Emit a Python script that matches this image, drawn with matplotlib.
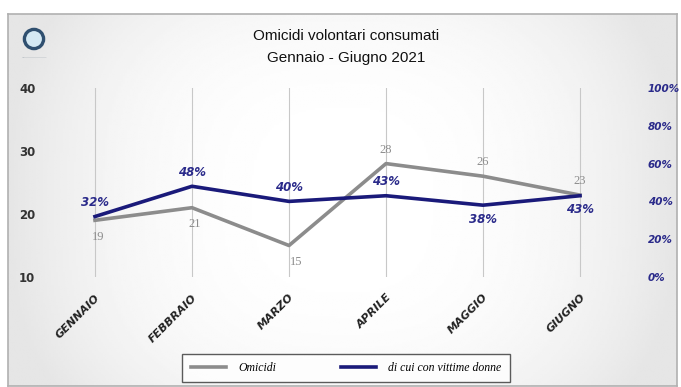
import numpy as np
import matplotlib.pyplot as plt
from matplotlib.patches import Circle

mesi = ["GENNAIO", "FEBBRAIO", "MARZO", "APRILE", "MAGGIO", "GIUGNO"]
omicidi = [19, 21, 15, 28, 26, 23]
perc_donne = [32, 48, 40, 43, 38, 43]

fig = plt.figure(figsize=(6.81, 3.87), dpi=100)
fig.patch.set_facecolor("white")

# background panel with soft gradient (white centre, grey edges)
bg = fig.add_axes([8 / 681, 1 / 387, 669 / 681, 372 / 387])
xx = np.linspace(-1, 1, 300)
yy = np.linspace(-1, 1, 200)
X, Y = np.meshgrid(xx, yy)
shade = 1 - 0.10 * np.clip(np.abs(X) ** 2.5 + 0.3 * np.abs(Y) ** 3, 0, 1)
bg.imshow(shade, cmap="gray", vmin=0, vmax=1, aspect="auto", extent=[0, 1, 0, 1])
bg.set_xlim(0, 1)
bg.set_ylim(0, 1)
bg.set_xticks([])
bg.set_yticks([])
for s in bg.spines.values():
    s.set_color("#b0b0b0")
    s.set_linewidth(1.2)

# logo (square axes so the circle stays round)
logo = fig.add_axes([22 / 681, (387 - 51) / 387, 24 / 681, 24 / 387])
logo.set_xlim(-1, 1)
logo.set_ylim(-1, 1)
logo.axis("off")
logo.add_patch(Circle((0, 0), 0.8, facecolor="#d4e8f3", edgecolor="#2f4f6f", linewidth=2.4))
fig.text(34 / 681, 1 - 56 / 387, "____________", ha="center", va="center",
         fontsize=3, color="#9aa4ad")

fig.text(346 / 681, 1 - 36 / 387, "Omicidi volontari consumati", ha="center", va="center",
         fontsize=11, color="#111111", family="Liberation Sans")
fig.text(346 / 681, 1 - 58 / 387, "Gennaio - Giugno 2021", ha="center", va="center",
         fontsize=11, color="#111111", family="Liberation Sans")

ax = fig.add_axes([46.5 / 681, 110 / 387, 582 / 681, 189 / 387])
ax.patch.set_alpha(0)
x = np.arange(len(mesi))
ax.plot(x, omicidi, color="#8c8c8c", lw=2.6, label="Omicidi", zorder=3)
ax.set_xlim(-0.5, len(mesi) - 0.5)
ax.set_ylim(10, 40)
ax.set_yticks([10, 20, 30, 40])
ax.set_xticks(x)
ax.set_xticklabels(mesi, rotation=45, ha="right", rotation_mode="anchor",
                   fontsize=8, fontweight="bold", fontstyle="italic", color="#222222")
ax.tick_params(axis="x", length=0, pad=11)
ax.tick_params(axis="y", length=0, pad=8, labelsize=8.5, labelcolor="#333333")
for lab in ax.get_yticklabels():
    lab.set_fontweight("bold")
for s in ax.spines.values():
    s.set_visible(False)
ax.xaxis.grid(True, color="#c8c8c8", lw=0.8)
ax.set_axisbelow(True)

off_o = [(2, -12), (2, -12), (5, -12), (0, 10), (0, 10), (0, 10)]
for xi, v, o in zip(x, omicidi, off_o):
    ax.annotate(str(v), (xi, v), xytext=o, textcoords="offset points", ha="center",
                va="center", fontsize=9, color="#8c8c8c", family="Liberation Serif")

ax2 = ax.twinx()
ax2.plot(x, perc_donne, color="#1a1a7a", lw=2.6, label="di cui con vittime donne", zorder=4)
ax2.set_ylim(0, 100)
ax2.set_yticks([0, 20, 40, 60, 80, 100])
ax2.set_yticklabels([f"{t}%" for t in [0, 20, 40, 60, 80, 100]])
ax2.tick_params(axis="y", length=0, pad=14, labelsize=7.5, labelcolor="#2a2a8a")
for lab in ax2.get_yticklabels():
    lab.set_fontstyle("italic")
    lab.set_fontweight("bold")
for s in ax2.spines.values():
    s.set_visible(False)

off_p = [(0, 10), (0, 10), (0, 10), (0, 10), (0, -10), (0, -10)]
for xi, v, o in zip(x, perc_donne, off_p):
    ax2.annotate(f"{v}%", (xi, v), xytext=o, textcoords="offset points", ha="center",
                 va="center", fontsize=8.5, color="#2a2a8a", fontstyle="italic",
                 fontweight="bold")

h1, l1 = ax.get_legend_handles_labels()
h2, l2 = ax2.get_legend_handles_labels()
leg = fig.legend(h1 + h2, l1 + l2, loc="center", bbox_to_anchor=(346 / 681, 19 / 387),
                 ncol=2, frameon=True, fancybox=False, edgecolor="#333333",
                 prop={"family": "Liberation Serif", "style": "italic", "size": 8.5},
                 handlelength=3, handletextpad=1.0, columnspacing=5.5, borderpad=0.7,
                 borderaxespad=0)
leg.get_frame().set_linewidth(1.0)

fig.savefig("out.png", dpi=100)
